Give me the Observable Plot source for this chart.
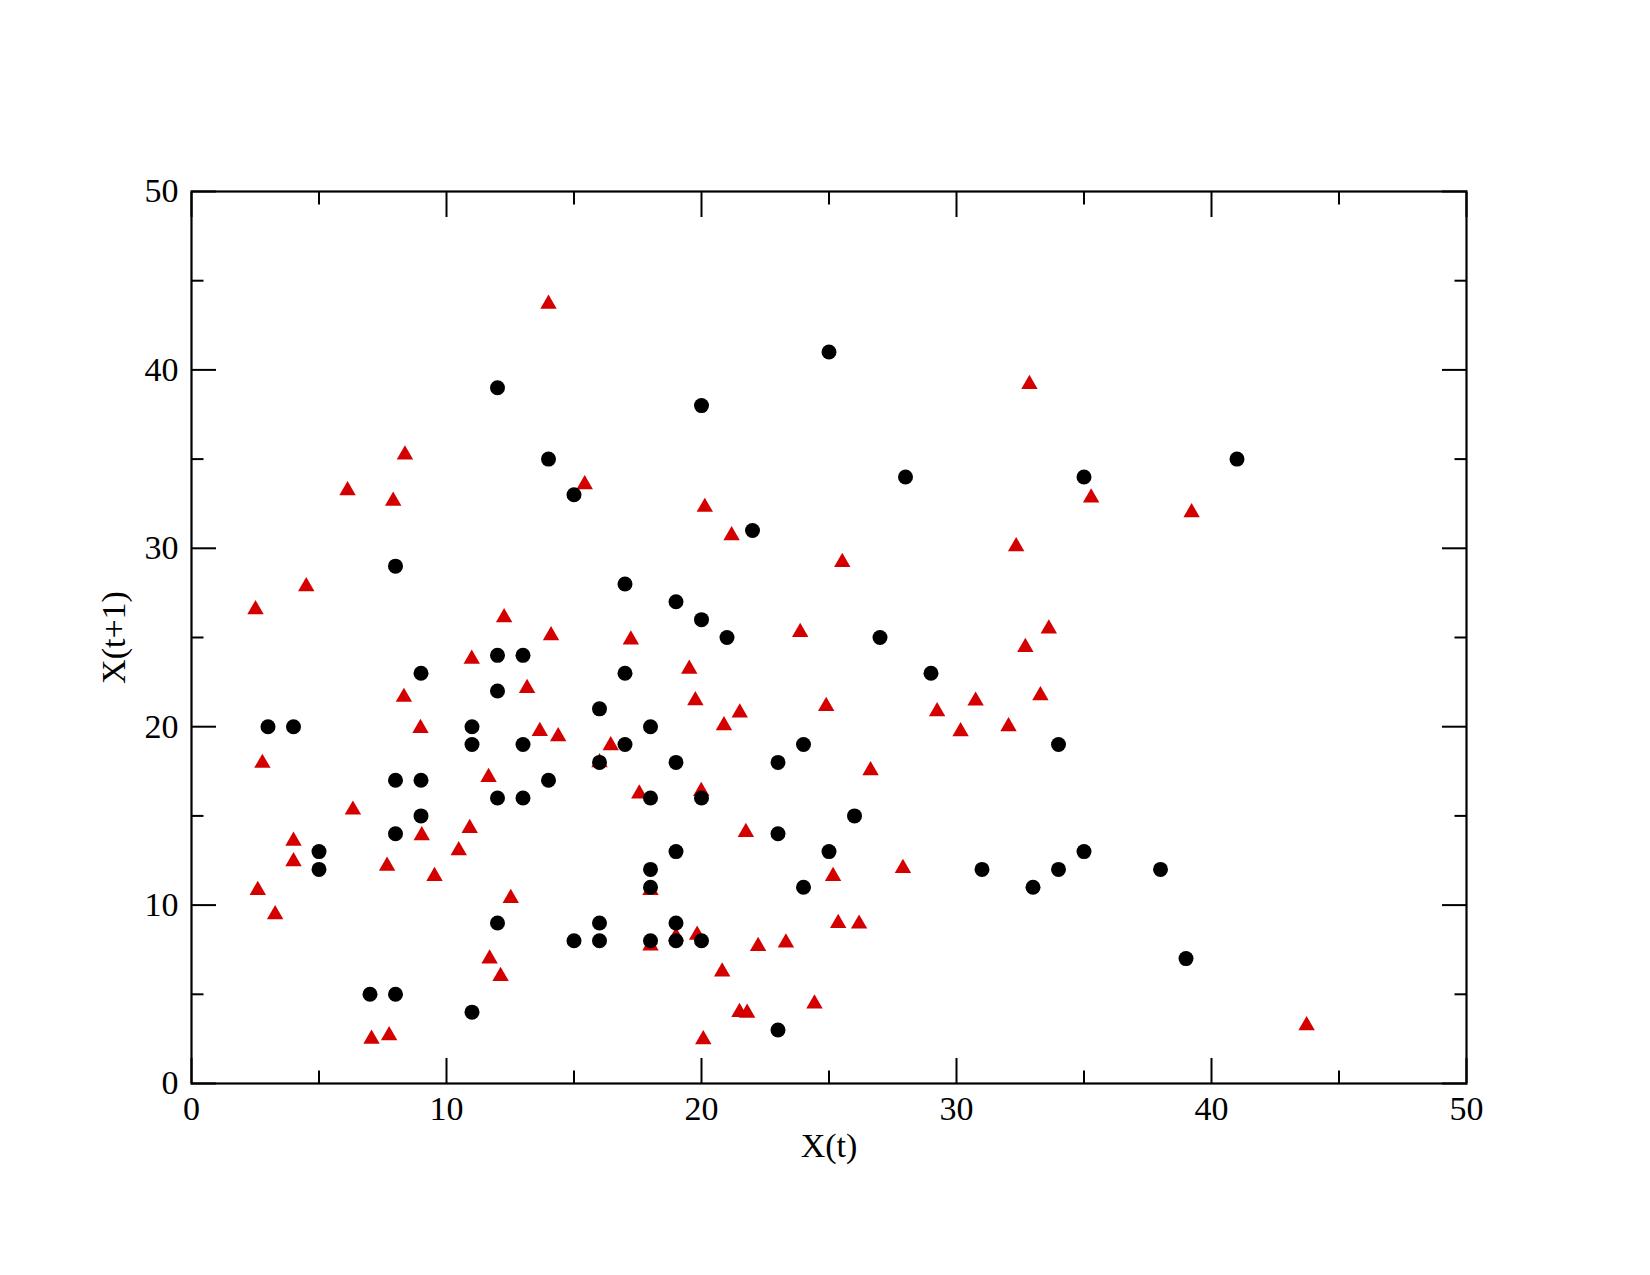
<!DOCTYPE html>
<html>
<head>
<meta charset="utf-8">
<script src="https://cdn.jsdelivr.net/npm/d3@7"></script>
<script src="https://cdn.jsdelivr.net/npm/@observablehq/plot@0.6"></script>
<style>
  html, body { margin: 0; padding: 0; background: #fff; }
  #chart svg { display: block; }
</style>
</head>
<body>
<div id="chart"></div>
<script>
// Series 1: black circles (integer lattice)
const circleX = [3,4,5,5,7,8,8,8,8,9,9,9,11,11,11,12,12,12,12,12,13,13,13,14,14,15,15,16,16,16,16,17,17,17,18,18,18,18,18,19,19,19,19,19,20,20,20,20,21,22,23,23,23,24,24,25,25,26,27,28,29,31,33,34,34,35,35,38,39,41];
const circleY = [20,20,13,12,5,5,29,17,14,23,17,15,20,19,4,39,24,22,16,9,24,19,16,35,17,33,8,21,18,9,8,28,23,19,20,16,12,11,8,27,18,13,9,8,38,26,16,8,25,31,18,14,3,19,11,41,13,15,25,34,23,12,11,19,12,34,13,12,7,35];

// Series 2: red triangles
const triX = [14.0,8.37,6.12,7.91,15.42,2.51,4.50,12.26,14.10,10.99,13.16,8.33,8.98,13.66,14.38,2.78,11.65,6.33,4.00,9.03,10.91,10.48,4.00,7.67,9.53,2.60,12.52,3.28,11.69,12.12,7.06,7.75,20.13,21.18,25.52,17.23,23.87,19.52,19.76,21.50,20.88,24.89,29.24,30.16,30.75,32.04,16.44,16.0,17.56,19.99,26.63,21.74,27.90,25.16,18.0,25.36,26.18,19.83,19.0,18.0,22.22,23.31,20.81,24.43,21.49,21.79,20.07,32.86,35.28,39.22,32.34,33.62,32.70,33.29,43.73];
const triY = [43.8,35.35,33.35,32.77,33.69,26.68,27.97,26.23,25.22,23.91,22.27,21.77,20.03,19.86,19.56,18.07,17.28,15.45,13.71,14.01,14.42,13.17,12.56,12.31,11.73,10.95,10.50,9.58,7.10,6.13,2.61,2.80,32.42,30.83,29.33,24.98,25.41,23.35,21.58,20.89,20.18,21.26,20.96,19.84,21.56,20.12,19.06,18.1,16.35,16.50,17.66,14.20,12.18,11.73,10.95,9.10,9.06,8.44,8.35,7.83,7.81,8.00,6.37,4.58,4.11,4.07,2.58,39.31,32.94,32.12,30.21,25.60,24.57,21.86,3.36];

const majorTicks = [0,10,20,30,40,50];
const minorTicks = [5,15,25,35,45];
const xTitle = "X(t)";
const yTitle = "X(t+1)";

const circles = circleX.map((x, i) => ({x, y: circleY[i]}));
const triangles = triX.map((x, i) => ({x, y: triY[i]}));

const font = "'Liberation Serif', 'Times New Roman', serif";
const blank = () => "";

const chart = Plot.plot({
  width: 1650,
  height: 1275,
  marginLeft: 191,
  marginRight: 184,
  marginTop: 191,
  marginBottom: 192,
  style: {fontFamily: font, fontSize: "34px", background: "white", color: "black"},
  x: {domain: [0, 50], label: null},
  y: {domain: [0, 50], label: null},
  marks: [
    Plot.dot(triangles, {x: "x", y: "y", symbol: "triangle", r: 6.1, fill: "#d40000", stroke: "none", dy: 2}),
    Plot.dot(circles, {x: "x", y: "y", r: 7.5, fill: "black", stroke: "none"}),
    // tick labels
    Plot.axisX(majorTicks, {anchor: "bottom", tickSize: 0, tickPadding: 12, fontSize: 34, label: null}),
    Plot.axisY(majorTicks, {anchor: "left", tickSize: 0, tickPadding: 13, fontSize: 34, label: null}),
    // inward major ticks on all sides
    Plot.axisX(majorTicks, {anchor: "bottom", tickSize: -25, tickFormat: blank, strokeWidth: 2, label: null}),
    Plot.axisX(majorTicks, {anchor: "top", tickSize: -25, tickFormat: blank, strokeWidth: 2, label: null}),
    Plot.axisY(majorTicks, {anchor: "left", tickSize: -25, tickFormat: blank, strokeWidth: 2, label: null}),
    Plot.axisY(majorTicks, {anchor: "right", tickSize: -25, tickFormat: blank, strokeWidth: 2, label: null}),
    // inward minor ticks
    Plot.axisX(minorTicks, {anchor: "bottom", tickSize: -12.5, tickFormat: blank, strokeWidth: 2, label: null}),
    Plot.axisX(minorTicks, {anchor: "top", tickSize: -12.5, tickFormat: blank, strokeWidth: 2, label: null}),
    Plot.axisY(minorTicks, {anchor: "left", tickSize: -12.5, tickFormat: blank, strokeWidth: 2, label: null}),
    Plot.axisY(minorTicks, {anchor: "right", tickSize: -12.5, tickFormat: blank, strokeWidth: 2, label: null}),
    Plot.frame({stroke: "black", strokeWidth: 2.2}),
    // axis titles
    Plot.text([xTitle], {text: d => d, frameAnchor: "bottom", dy: 63, textAnchor: "middle", lineAnchor: "middle", fontSize: 34, fill: "black"}),
    Plot.text([yTitle], {text: d => d, frameAnchor: "left", dx: -77, rotate: -90, textAnchor: "middle", lineAnchor: "middle", fontSize: 34, fill: "black"})
  ]
});
document.getElementById("chart").appendChild(chart);
</script>
</body>
</html>
